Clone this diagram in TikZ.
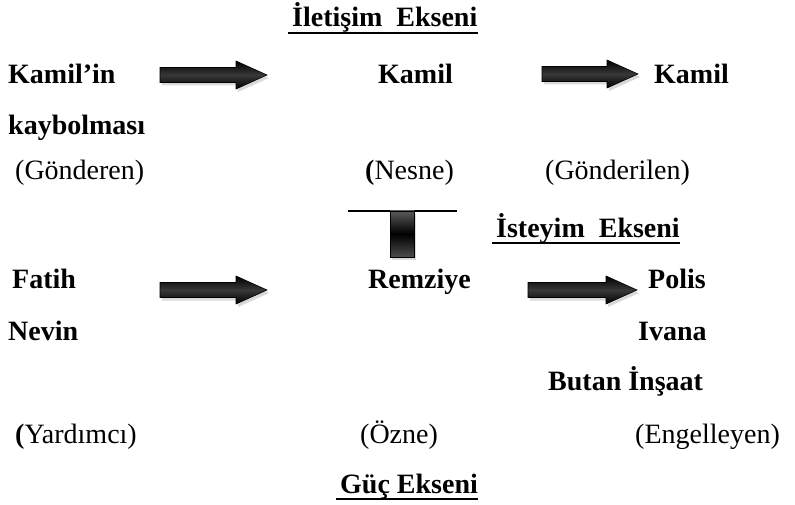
\documentclass[tikz,border=0pt]{standalone}
\usepackage{fontspec}
\setmainfont{Liberation Serif}
\usetikzlibrary{shadows}
\usetikzlibrary{positioning}

\tikzset{
  actant/.style={anchor=base west,inner sep=0pt,font=\fontsize{28}{32}\selectfont\bfseries},
  role/.style={anchor=base west,inner sep=0pt,font=\fontsize{28}{32}\selectfont},
  fatarrow/.style={top color=black,bottom color=black,middle color=black!78,
    draw=black,line width=0.6pt,
    drop shadow={opacity=.3,shadow xshift=2pt,shadow yshift=-3pt}}
}

\begin{document}
\begin{tikzpicture}[x=1pt,y=-1pt]
    \useasboundingbox (0,0) rectangle (795,505);
    % axis titles
    \node[actant] (iletisim) at (292,27) {İletişim\ \ Ekseni};
    \node[actant] (isteyim) at (496,237) {İsteyim\ \ Ekseni};
    \node[actant] (guc) at (340,493) {Güç Ekseni};
    \foreach \t in {iletisim,isteyim,guc}{
      \draw[line width=1.8pt] ([shift={(-4pt,-6pt)}] \t.base west) -- ([yshift=-6pt] \t.base east);
    }
    % iletisim ekseni
    \node[actant] (kamilin) at (8,84) {Kamil’in};
    \node[actant] (kaybolmasi) at (8,135) {kaybolması};
    \node[role] (gonderen) at (15,180) {(Gönderen)};
    \node[actant] (nesne) at (378,84) {Kamil};
    \node[role] (nesnerole) at (365,180) {{\bfseries(}Nesne)};
    \node[actant] (alici) at (654,84) {Kamil};
    \node[role] (gonderilen) at (545,180) {(Gönderilen)};
    % guc ekseni
    \node[actant] (fatih) at (12,288) {Fatih};
    \node[actant] (nevin) at (8,340) {Nevin};
    \node[role] (yardimci) at (15,443) {{\bfseries(}Yardımcı)};
    \node[actant] (remziye) at (368,288) {Remziye};
    \node[role] (ozne) at (360,443) {(Özne)};
    \node[actant] (polis) at (648,288) {Polis};
    \node[actant] (ivana) at (638,340) {Ivana};
    \node[actant] (butan) at (548,390) {Butan İnşaat};
    \node[role] (engelleyen) at (635,443) {(Engelleyen)};
    % block arrows: start x / centre y / length
    \foreach \x/\y/\l in {160/75/107,542/74/96,160/290/107,528/290/109}{
      \path[fatarrow] (\x,\y-7.5) -- ++(\l-31,0) -- ++(0,-6.5) -- (\x+\l,\y)
        -- (\x+\l-31,\y+14) -- ++(0,-6.5) -- (\x,\y+7.5) -- cycle;
    }
    % nesne <- ozne
    \draw[line width=1.6pt] (348,211) -- (457,211);
    \path[fatarrow,top color=black!65,bottom color=black!70,middle color=black] (390,211) rectangle (414,257);
\end{tikzpicture}
\end{document}
